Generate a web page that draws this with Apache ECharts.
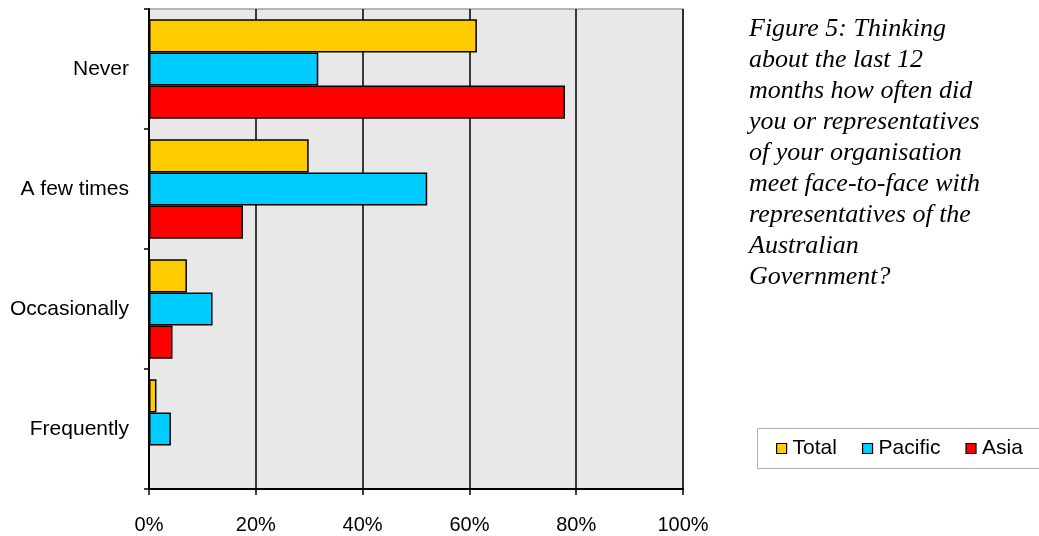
<!DOCTYPE html>
<html>
<head>
<meta charset="utf-8">
<script src="https://cdn.jsdelivr.net/npm/echarts@6/dist/echarts.min.js"></script>
<style>
  html, body { margin: 0; padding: 0; background: #fff; }
  #chart { width: 1039px; height: 536px; }
</style>
</head>
<body>
<div id="chart"></div>
<script>
// Meeting frequency categories, top to bottom
const categories = ['Never', 'A few times', 'Occasionally', 'Frequently'];
// Share of respondents (%) per region
const totalValues = [61.4, 29.9, 7.1, 1.4];
const pacificValues = [31.7, 52.1, 11.9, 4.1];
const asiaValues = [77.9, 17.6, 4.4, 0];
const seriesNames = ['Total', 'Pacific', 'Asia'];
const seriesColors = ['#FFCC00', '#00CCFF', '#FF0000'];
const xTicks = [0, 20, 40, 60, 80, 100];
const captionLines = [
  'Figure 5: Thinking',
  'about the last 12',
  'months how often did',
  'you or representatives',
  'of your organisation',
  'meet face-to-face with',
  'representatives of the',
  'Australian',
  'Government?'
];

const valuesBySeries = [totalValues, pacificValues, asiaValues];

const chart = echarts.init(document.getElementById('chart'), null, { renderer: 'canvas' });

const option = {
  animation: false,
  backgroundColor: '#ffffff',
  textStyle: { fontFamily: 'Liberation Sans, Arial, sans-serif' },
  title: {
    text: captionLines.join('\n'),
    left: 744,
    top: 9,
    textStyle: {
      fontFamily: 'Liberation Serif, Times New Roman, serif',
      fontStyle: 'italic',
      fontWeight: 'normal',
      fontSize: 26,
      lineHeight: 31,
      color: '#000'
    }
  },
  grid: {
    left: 149,
    top: 9,
    right: 356,
    bottom: 47,
    show: true,
    backgroundColor: '#e8e8e8',
    borderColor: '#a0a0a0',
    borderWidth: 1.5
  },
  graphic: [
    {
      type: 'rect',
      left: 757,
      top: 428,
      shape: { width: 320, height: 40 },
      style: { fill: '#fff', stroke: '#b0b0b0', lineWidth: 1 },
      z: 0
    }
  ],
  legend: {
    data: seriesNames,
    left: 776,
    top: 438,
    icon: 'rect',
    itemWidth: 10,
    itemHeight: 10,
    itemGap: 25,
    padding: 0,
    itemStyle: { borderColor: '#000', borderWidth: 1.2 },
    textStyle: { fontSize: 21, color: '#000', padding: [0, 0, 0, 1] },
    z: 5
  },
  xAxis: {
    type: 'value',
    min: 0,
    max: 100,
    interval: 20,
    axisLine: { show: true, lineStyle: { color: '#000', width: 2 } },
    axisTick: { show: true, length: 6, lineStyle: { color: '#000', width: 1.5 } },
    axisLabel: {
      color: '#000',
      fontSize: 20,
      margin: 26,
      formatter: v => (xTicks.includes(v) ? v + '%' : '')
    },
    splitLine: { show: true, lineStyle: { color: '#000', width: 1.5 } }
  },
  yAxis: {
    type: 'category',
    inverse: true,
    data: categories,
    axisLine: { show: true, lineStyle: { color: '#000', width: 2 } },
    axisTick: { show: true, length: 5, lineStyle: { color: '#000', width: 1.5 } },
    axisLabel: { color: '#000', fontSize: 21, margin: 20 },
    splitLine: { show: false }
  },
  series: seriesNames.map((name, i) => ({
    name,
    type: 'bar',
    data: valuesBySeries[i],
    barGap: '0%',
    barCategoryGap: '17%',
    itemStyle: {
      color: seriesColors[i],
      borderColor: '#000',
      borderWidth: 1.5
    },
    z: 3
  }))
};

chart.setOption(option);
</script>
</body>
</html>
